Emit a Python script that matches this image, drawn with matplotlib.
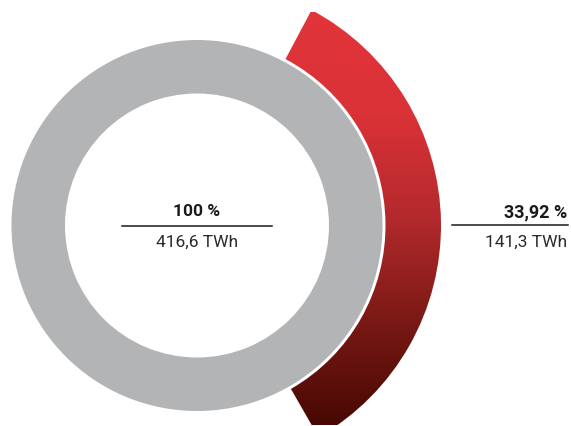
import numpy as np
import matplotlib
matplotlib.use("Agg")
import matplotlib.pyplot as plt
from matplotlib.patches import Wedge
from matplotlib.colors import LinearSegmentedColormap

# Data
total_pct = 100
total_label = "100 %"
total_energy = "416,6 TWh"
share_pct = 33.92
share_label = "33,92 %"
share_energy = "141,3 TWh"

plt.rcParams['font.family'] = ['Roboto', 'DejaVu Sans']

W, H = 571, 426
fig = plt.figure(figsize=(W / 100, H / 100), dpi=100)
ax = fig.add_axes([0, 0, 1, 1])
ax.set_xlim(0, W)
ax.set_ylim(H, 0)
ax.set_aspect('equal')
ax.axis('off')

cx, cy = 197, 225.5

# Full ring for the total
ring = Wedge((cx, cy), 185.5, 0, 360 * total_pct / 100, width=53.5,
             facecolor='#B3B4B6', edgecolor='none')
ax.add_patch(ring)

# Outer arc for the share, centred on the right side
span = 360 * share_pct / 100
top_angle = 62.0
# y axis is inverted, so negative angles point upward on screen
arc = Wedge((cx, cy), 244, -top_angle, -top_angle + span, width=55.5,
            facecolor='none', edgecolor='none')
ax.add_patch(arc)

cmap = LinearSegmentedColormap.from_list(
    'redgrad',
    [(0.0, '#E1343B'), (0.25, '#D93237'), (0.5, '#B3292C'),
     (0.75, '#7A1915'), (1.0, '#470802')])
grad = np.linspace(0, 1, 512).reshape(-1, 1)
img = ax.imshow(grad, cmap=cmap, extent=(cx, cx + 250, 425, 12),
                aspect='auto', interpolation='bilinear', zorder=2)
img.set_clip_path(arc)
ax.set_xlim(0, W)
ax.set_ylim(H, 0)

# Centre label
ax.text(cx, 212, total_label, ha='center', va='center', fontsize=12.5,
        fontweight='bold', color='#1a1a1a')
ax.plot([122, 272], [225.5, 225.5], color='#1a1a1a', lw=1.1)
ax.text(cx, 242, total_energy, ha='center', va='center', fontsize=12.5,
        color='#2a2a2a')

# Share label
ax.text(567, 212, share_label, ha='right', va='center', fontsize=13,
        fontweight='bold', color='#1a1a1a')
ax.plot([452, 568], [224.5, 224.5], color='#1a1a1a', lw=1.1)
ax.text(567, 242, share_energy, ha='right', va='center', fontsize=12.5,
        color='#2a2a2a')

fig.savefig('out.png', dpi=100, facecolor='white')
